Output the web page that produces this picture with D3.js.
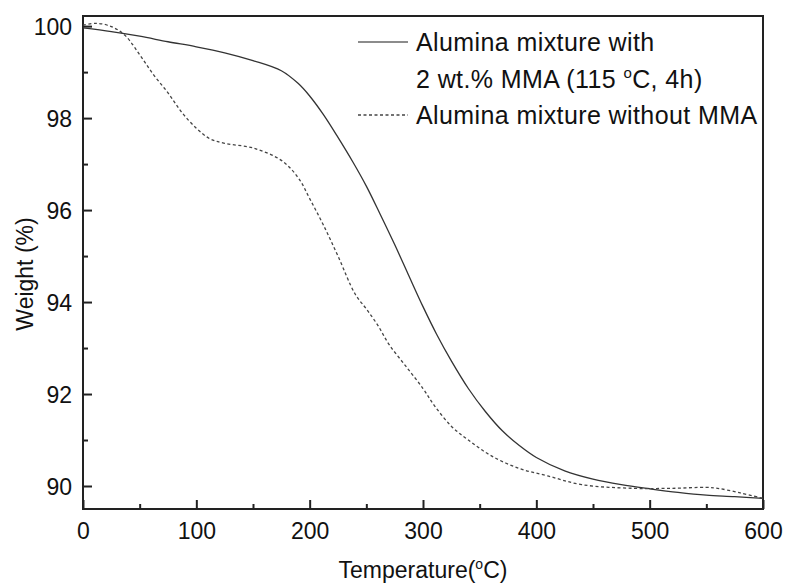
<!DOCTYPE html>
<html>
<head>
<meta charset="utf-8">
<script src="https://cdn.jsdelivr.net/npm/d3@7"></script>
<style>
  body { margin: 0; background: #fff; }
  text { font-family: "Liberation Sans", Arial, sans-serif; fill: #111; }
</style>
</head>
<body>
<div id="chart"></div>
<script>
// TGA data
const tempsWith = [0, 25, 50, 75, 100, 125, 150, 175, 190, 200, 212, 225, 238, 250, 262, 275, 287, 300, 312, 325, 340, 355, 370, 385, 400, 425, 450, 475, 500, 525, 550, 575, 600];
const weightWith = [99.96, 99.88, 99.78, 99.66, 99.55, 99.42, 99.25, 99.03, 98.75, 98.48, 98.08, 97.58, 97.05, 96.52, 95.92, 95.25, 94.6, 93.9, 93.3, 92.72, 92.12, 91.62, 91.2, 90.88, 90.62, 90.33, 90.15, 90.03, 89.94, 89.86, 89.8, 89.77, 89.73];

const tempsWithout = [0, 12, 25, 37, 50, 62, 75, 87, 100, 112, 125, 150, 175, 190, 200, 212, 225, 240, 250, 260, 270, 285, 300, 310, 325, 340, 360, 385, 410, 440, 485, 520, 550, 560, 580, 600];
const weightWithout = [100.02, 100.06, 99.99, 99.8, 99.38, 98.95, 98.55, 98.13, 97.78, 97.55, 97.45, 97.35, 97.08, 96.7, 96.25, 95.68, 95.0, 94.18, 93.85, 93.5, 93.08, 92.6, 92.12, 91.75, 91.3, 91.0, 90.66, 90.38, 90.22, 90.03, 89.95, 89.95, 89.97, 89.95, 89.85, 89.73];

const xTicks = [0, 100, 200, 300, 400, 500, 600];
const xMinor = [50, 150, 250, 350, 450, 550];
const yTicks = [90, 92, 94, 96, 98, 100];
const yMinor = [91, 93, 95, 97, 99];

// set the dimensions and margins of the graph
const margin = { top: 16, right: 24, bottom: 76, left: 83 },
  width = 787 - margin.left - margin.right,
  height = 585 - margin.top - margin.bottom;

const svg = d3
  .select("#chart")
  .append("svg")
  .attr("width", 787)
  .attr("height", 585)
  .append("g")
  .attr("transform", `translate(${margin.left},${margin.top})`);

const x = d3.scaleLinear().domain([0, 600]).range([0, width]);
const y = d3.scaleLinear().domain([89.5, 100.22]).range([height, 0]);

// X axis (ticks pointing inward)
const xAxis = svg
  .append("g")
  .attr("transform", `translate(0,${height})`)
  .call(d3.axisBottom(x).tickValues(xTicks).tickSize(-9).tickPadding(14));
xAxis.selectAll("text").style("font-size", "23px");
svg
  .append("g")
  .attr("transform", `translate(0,${height})`)
  .call(d3.axisBottom(x).tickValues(xMinor).tickSize(-5).tickFormat(""));

// Y axis
const yAxis = svg
  .append("g")
  .call(d3.axisLeft(y).tickValues(yTicks).tickSize(-9).tickPadding(11));
yAxis.selectAll("text").style("font-size", "23px").attr("dy", "0.36em");
svg
  .append("g")
  .call(d3.axisLeft(y).tickValues(yMinor).tickSize(-5).tickFormat(""));

svg.selectAll(".domain").remove();
svg.selectAll(".tick line").attr("stroke", "#222").attr("stroke-width", 2);

// frame
svg
  .append("rect")
  .attr("width", width)
  .attr("height", height)
  .attr("fill", "none")
  .attr("stroke", "#222")
  .attr("stroke-width", 2);

// lines
const line = d3
  .line()
  .x((d) => x(d[0]))
  .y((d) => y(d[1]))
  .curve(d3.curveCatmullRom.alpha(0.5));

svg
  .append("path")
  .datum(tempsWith.map((t, i) => [t, weightWith[i]]))
  .attr("d", line)
  .attr("fill", "none")
  .attr("stroke", "#333")
  .attr("stroke-width", 1.3);

svg
  .append("path")
  .datum(tempsWithout.map((t, i) => [t, weightWithout[i]]))
  .attr("d", line)
  .attr("fill", "none")
  .attr("stroke", "#444")
  .attr("stroke-width", 1.3)
  .style("stroke-dasharray", "3,2.5");

// legend
const legend = svg.append("g").attr("transform", `translate(${358 - margin.left},${0})`);
legend
  .append("line")
  .attr("x1", 0).attr("x2", 50)
  .attr("y1", 42 - margin.top).attr("y2", 42 - margin.top)
  .attr("stroke", "#666").attr("stroke-width", 1.3);
legend
  .append("line")
  .attr("x1", 0).attr("x2", 50)
  .attr("y1", 115 - margin.top).attr("y2", 115 - margin.top)
  .attr("stroke", "#444").attr("stroke-width", 1.3)
  .style("stroke-dasharray", "3,2.5");

legend.append("text")
  .attr("x", 58).attr("y", 51 - margin.top)
  .style("font-size", "25px").style("letter-spacing", "0.4px")
  .text("Alumina mixture with");
const l2 = legend.append("text")
  .attr("x", 58).attr("y", 88 - margin.top)
  .style("font-size", "25px").style("letter-spacing", "0.4px");
l2.append("tspan").text("2 wt.% MMA (115 ");
l2.append("tspan").attr("dy", -10).style("font-size", "15px").text("o");
l2.append("tspan").attr("dy", 10).text("C, 4h)");
legend.append("text")
  .attr("x", 58).attr("y", 124 - margin.top)
  .style("font-size", "25px").style("letter-spacing", "0.4px")
  .text("Alumina mixture without MMA");

// axis titles
const xt = svg.append("text")
  .attr("x", width / 2)
  .attr("y", 578 - margin.top)
  .attr("text-anchor", "middle")
  .style("font-size", "23px");
xt.append("tspan").text("Temperature(");
xt.append("tspan").attr("dy", -9).style("font-size", "14px").text("o");
xt.append("tspan").attr("dy", 9).text("C)");

svg.append("text")
  .attr("transform", `translate(${33 - margin.left},${274 - margin.top}) rotate(-90)`)
  .attr("text-anchor", "middle")
  .style("font-size", "23px")
  .text("Weight (%)");
</script>
</body>
</html>
